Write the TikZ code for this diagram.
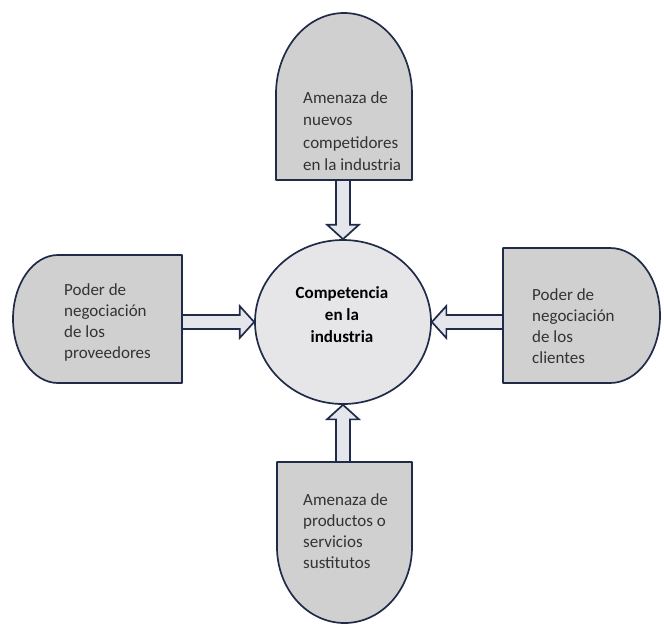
\documentclass[tikz,border=0pt]{standalone}
\usepackage{fontspec}
\setmainfont{Carlito}
\usetikzlibrary{calc,shapes.geometric}

\definecolor{edge}{HTML}{1F2B48}
\definecolor{boxfill}{HTML}{D1D0D0}
\definecolor{corefill}{HTML}{E6E6E9}
\definecolor{arrowfill}{HTML}{E4E6EB}
\definecolor{labeltext}{HTML}{333333}

% hollow block arrow from #1 to #2 (shaft half-width 7, head half-width 16, head length 14.5)
\newcommand\forcearrow[2]{%
  \filldraw[forcearrow] let \p1=(#1), \p2=(#2),
      \n1={veclen(\x2-\x1,\y2-\y1)},
      \n2={(\x2-\x1)/\n1}, \n3={(\y2-\y1)/\n1} in
    ({\x1-7*\n3},{\y1+7*\n2}) --
    ({\x2-14.5*\n2-7*\n3},{\y2-14.5*\n3+7*\n2}) --
    ({\x2-14.5*\n2-16*\n3},{\y2-14.5*\n3+16*\n2}) --
    (\p2) --
    ({\x2-14.5*\n2+16*\n3},{\y2-14.5*\n3-16*\n2}) --
    ({\x2-14.5*\n2+7*\n3},{\y2-14.5*\n3-7*\n2}) --
    ({\x1+7*\n3},{\y1-7*\n2}) -- cycle;}

% label text block: #1 = line spacing, #2 = lines
\newcommand\forcetext[2]{\parbox[t]{130pt}{\raggedright\fontsize{17pt}{#1}\selectfont #2}}

\begin{document}
\begin{tikzpicture}[x=1pt,y=-1pt,
  forcebox/.style={draw=edge,fill=boxfill,line width=1.7pt,line join=round},
  forcearrow/.style={draw=edge,fill=arrowfill,line width=1.7pt,line join=miter},
  core/.style={ellipse,draw=edge,fill=corefill,line width=1.7pt,
    minimum width=176pt,minimum height=164pt,inner sep=0pt},
  label/.style={anchor=base west,inner sep=0pt,text=labeltext}]
\useasboundingbox (0,0) rectangle (664,625);

% the four forces
\filldraw[forcebox] (276,180) -- (276,94)
  arc[start angle=180,end angle=0,x radius=68pt,y radius=81pt] -- (412,180) -- cycle;
\filldraw[forcebox] (182,255) -- (182,383) -- (58,383)
  arc[start angle=270,end angle=90,x radius=45pt,y radius=64pt] -- cycle;
\filldraw[forcebox] (503,248) -- (610,248)
  arc[start angle=90,end angle=-90,x radius=50pt,y radius=67.5pt] -- (503,383) -- cycle;
\filldraw[forcebox] (277,462) -- (412,462) -- (412,547)
  arc[start angle=0,end angle=-180,x radius=67.5pt,y radius=76pt] -- cycle;

\node[label] (entrants) at (303,103) {\forcetext{22.5pt}{Amenaza de\\nuevos\\competidores\\en la industria}};
\node[label] (suppliers) at (64,295) {\forcetext{21pt}{Poder de\\negociación\\de los\\proveedores}};
\node[label] (buyers) at (532,300) {\forcetext{21pt}{Poder de\\negociación\\de los\\clientes}};
\node[label] (substitutes) at (303,505) {\forcetext{21pt}{Amenaza de\\productos o\\servicios\\sustitutos}};

\coordinate (entrants-edge) at (343,180);
\coordinate (suppliers-edge) at (182,322);
\coordinate (buyers-edge) at (503,322);
\coordinate (substitutes-edge) at (343,462);

% rivalry at the centre
\node[core] (comp) at (343,322) {};
\node[anchor=base,inner sep=0pt] (comp-text) at (342,298)
  {\parbox[t]{120pt}{\centering\fontsize{17pt}{22pt}\selectfont\bfseries Competencia\\en la\\industria}};

\forcearrow{entrants-edge}{comp.north}
\forcearrow{suppliers-edge}{comp.west}
\forcearrow{buyers-edge}{comp.east}
\forcearrow{substitutes-edge}{comp.south}
\end{tikzpicture}
\end{document}
